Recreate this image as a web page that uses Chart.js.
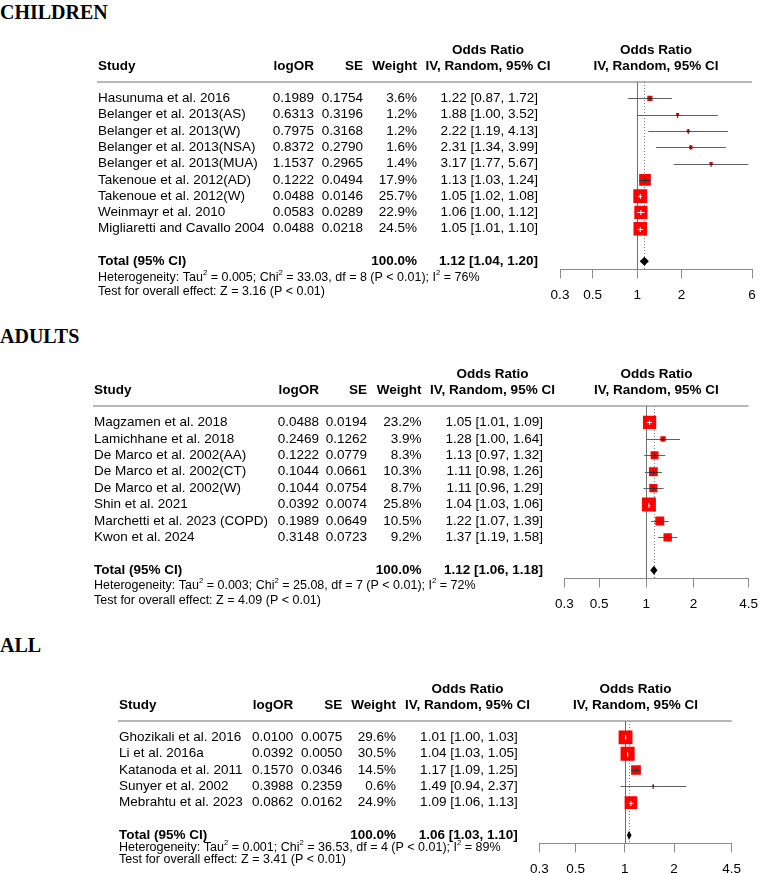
<!DOCTYPE html>
<html>
<head>
<meta charset="utf-8">
<script src="https://cdn.jsdelivr.net/npm/chart.js@4.4.1/dist/chart.umd.min.js"></script>
<style>
  html, body { margin: 0; padding: 0; background: #fff; overflow: hidden; }
  body { width: 767px; height: 873px; position: relative; }
  .title { position: absolute; left: 0; font: bold 20px "Liberation Serif", "Times New Roman", serif; line-height: 24px; color: #000; }
  .panel { position: absolute; left: 0; width: 767px; }
</style>
</head>
<body>
<div class="title" style="top:0px">CHILDREN</div>
<div class="panel" style="top:30px;height:280px"><canvas id="chartChildren"></canvas></div>
<div class="title" style="top:324px">ADULTS</div>
<div class="panel" style="top:353.5px;height:265px"><canvas id="chartAdults"></canvas></div>
<div class="title" style="top:633px">ALL</div>
<div class="panel" style="top:669px;height:215px"><canvas id="chartAll"></canvas></div>

<script>
/* ---------- data: children ---------- */
const childStudies = ['Hasunuma et al. 2016', 'Belanger et al. 2013(AS)', 'Belanger et al. 2013(W)',
  'Belanger et al. 2013(NSA)', 'Belanger et al. 2013(MUA)', 'Takenoue et al. 2012(AD)',
  'Takenoue et al. 2012(W)', 'Weinmayr et al. 2010', 'Migliaretti and Cavallo 2004'];
const childLogOR  = [0.1989, 0.6313, 0.7975, 0.8372, 1.1537, 0.1222, 0.0488, 0.0583, 0.0488];
const childSE     = [0.1754, 0.3196, 0.3168, 0.2790, 0.2965, 0.0494, 0.0146, 0.0289, 0.0218];
const childWeight = [3.6, 1.2, 1.2, 1.6, 1.4, 17.9, 25.7, 22.9, 24.5];
const childOR     = [1.22, 1.88, 2.22, 2.31, 3.17, 1.13, 1.05, 1.06, 1.05];
const childLo     = [0.87, 1.00, 1.19, 1.34, 1.77, 1.03, 1.02, 1.00, 1.01];
const childHi     = [1.72, 3.52, 4.13, 3.99, 5.67, 1.24, 1.08, 1.12, 1.10];
const childTotal  = [1.12, 1.04, 1.20];
const childHet    = { tau2: '0.005', chi2: '33.03', df: 8, i2: 76, z: '3.16' };
const childTicks  = [0.3, 0.5, 1, 2, 6];

/* ---------- data: adults ---------- */
const adultStudies = ['Magzamen et al. 2018', 'Lamichhane et al. 2018', 'De Marco et al. 2002(AA)',
  'De Marco et al. 2002(CT)', 'De Marco et al. 2002(W)', 'Shin et al. 2021',
  'Marchetti et al. 2023 (COPD)', 'Kwon et al. 2024'];
const adultLogOR  = [0.0488, 0.2469, 0.1222, 0.1044, 0.1044, 0.0392, 0.1989, 0.3148];
const adultSE     = [0.0194, 0.1262, 0.0779, 0.0661, 0.0754, 0.0074, 0.0649, 0.0723];
const adultWeight = [23.2, 3.9, 8.3, 10.3, 8.7, 25.8, 10.5, 9.2];
const adultOR     = [1.05, 1.28, 1.13, 1.11, 1.11, 1.04, 1.22, 1.37];
const adultLo     = [1.01, 1.00, 0.97, 0.98, 0.96, 1.03, 1.07, 1.19];
const adultHi     = [1.09, 1.64, 1.32, 1.26, 1.29, 1.06, 1.39, 1.58];
const adultTotal  = [1.12, 1.06, 1.18];
const adultHet    = { tau2: '0.003', chi2: '25.08', df: 7, i2: 72, z: '4.09' };
const adultTicks  = [0.3, 0.5, 1, 2, 4.5];

/* ---------- data: all ---------- */
const allStudies = ['Ghozikali et al. 2016', 'Li et al. 2016a', 'Katanoda et al. 2011',
  'Sunyer et al. 2002', 'Mebrahtu et al. 2023'];
const allLogOR  = [0.0100, 0.0392, 0.1570, 0.3988, 0.0862];
const allSE     = [0.0075, 0.0050, 0.0346, 0.2359, 0.0162];
const allWeight = [29.6, 30.5, 14.5, 0.6, 24.9];
const allOR     = [1.01, 1.04, 1.17, 1.49, 1.09];
const allLo     = [1.00, 1.03, 1.09, 0.94, 1.06];
const allHi     = [1.03, 1.05, 1.25, 2.37, 1.13];
const allTotal  = [1.06, 1.03, 1.10];
const allHet    = { tau2: '0.001', chi2: '36.53', df: 4, i2: 89, z: '3.41' };
const allTicks  = [0.3, 0.5, 1, 2, 4.5];

/* ---------- helpers ---------- */
const SANS = '"Liberation Sans", Arial, sans-serif';
function font(size, bold) { return `${bold ? 'bold ' : ''}${size}px ${SANS}`; }

// draws text where "^2" becomes a small superscript
function drawRich(ctx, str, x, y, size) {
  const parts = str.split('^');
  let cx = x;
  parts.forEach((p, i) => {
    if (i > 0) {
      ctx.font = font(size * 0.62, false);
      ctx.fillText(p[0], cx, y - size * 0.38);
      cx += ctx.measureText(p[0]).width;
      p = p.slice(1);
    }
    ctx.font = font(size, false);
    ctx.fillText(p, cx, y);
    cx += ctx.measureText(p).width;
  });
}

const forestPlugin = {
  id: 'forest',
  beforeDatasetsDraw(chart) {
    const c = chart.options.plugins.forest;
    const { ctx, chartArea: a, scales: { x, y } } = chart;
    ctx.save();
    // header rule
    ctx.strokeStyle = '#a0a0a0';
    ctx.lineWidth = 1.5;
    ctx.beginPath(); ctx.moveTo(c.lineL, a.top); ctx.lineTo(a.right, a.top); ctx.stroke();
    // line of no effect
    ctx.strokeStyle = '#707070';
    ctx.lineWidth = 1;
    const x1 = Math.round(x.getPixelForValue(1)) + 0.5;
    ctx.beginPath(); ctx.moveTo(x1, a.top); ctx.lineTo(x1, a.bottom); ctx.stroke();
    // pooled estimate, dotted
    const xp = Math.round(x.getPixelForValue(c.total[0])) + 0.5;
    ctx.strokeStyle = '#808080';
    ctx.setLineDash([1, 2]);
    ctx.beginPath(); ctx.moveTo(xp, a.top); ctx.lineTo(xp, a.bottom); ctx.stroke();
    ctx.setLineDash([]);
    // confidence intervals
    ctx.strokeStyle = '#606060';
    c.lo.forEach((lo, i) => {
      const yy = Math.round(y.getPixelForValue(i)) + 0.5;
      const xa = Math.max(x.getPixelForValue(lo), a.left);
      const xb = Math.min(x.getPixelForValue(c.hi[i]), a.right);
      ctx.beginPath(); ctx.moveTo(xa, yy); ctx.lineTo(xb, yy); ctx.stroke();
    });
    ctx.restore();
  },
  afterDatasetsDraw(chart) {
    const c = chart.options.plugins.forest;
    const { ctx, chartArea: a, scales: { x, y } } = chart;
    ctx.save();
    // CI part inside the squares
    c.or.forEach((v, i) => {
      const half = Math.sqrt(c.weight[i]) * c.k / 2;
      const xc = x.getPixelForValue(v);
      const yy = Math.round(y.getPixelForValue(i)) + 0.5;
      const xa = x.getPixelForValue(c.lo[i]);
      const xb = x.getPixelForValue(c.hi[i]);
      const inside = xa >= xc - half && xb <= xc + half;
      ctx.strokeStyle = inside ? '#ffffff' : '#303030';
      ctx.lineWidth = 1;
      ctx.beginPath();
      ctx.moveTo(Math.max(xa, xc - half), yy); ctx.lineTo(Math.min(xb, xc + half), yy);
      ctx.moveTo(xc, yy - 2.5); ctx.lineTo(xc, yy + 2.5);
      ctx.stroke();
    });
    // diamond
    const yt = y.getPixelForValue(c.studies.length + 1);
    ctx.fillStyle = '#000';
    ctx.beginPath();
    ctx.moveTo(x.getPixelForValue(c.total[1]), yt);
    ctx.lineTo(x.getPixelForValue(c.total[0]), yt - 4.5);
    ctx.lineTo(x.getPixelForValue(c.total[2]), yt);
    ctx.lineTo(x.getPixelForValue(c.total[0]), yt + 4.5);
    ctx.closePath(); ctx.fill();

    // table text
    ctx.fillStyle = '#000';
    ctx.textBaseline = 'middle';
    const fs = 13.5;
    const h1 = a.top - 32, h2 = a.top - 15.5;
    ctx.font = font(fs, true);
    ctx.textAlign = 'left';  ctx.fillText('Study', c.studyX, h2);
    ctx.textAlign = 'right'; ctx.fillText('logOR', c.logX, h2);
    ctx.fillText('SE', c.seX, h2);
    ctx.fillText('Weight', c.wX, h2);
    ctx.textAlign = 'center';
    ctx.fillText('Odds Ratio', c.orHdrX, h1);
    ctx.fillText('IV, Random, 95% CI', c.orHdrX, h2);
    const pc = (a.left + a.right) / 2;
    ctx.fillText('Odds Ratio', pc, h1);
    ctx.fillText('IV, Random, 95% CI', pc, h2);

    ctx.font = font(fs, false);
    c.studies.forEach((s, i) => {
      const yy = y.getPixelForValue(i);
      ctx.textAlign = 'left';  ctx.fillText(s, c.studyX, yy);
      ctx.textAlign = 'right';
      ctx.fillText(c.logOR[i].toFixed(4), c.logX, yy);
      ctx.fillText(c.se[i].toFixed(4), c.seX, yy);
      ctx.fillText(c.weight[i].toFixed(1) + '%', c.wX, yy);
      ctx.fillText(`${c.or[i].toFixed(2)} [${c.lo[i].toFixed(2)}, ${c.hi[i].toFixed(2)}]`, c.orX, yy);
    });

    ctx.font = font(fs, true);
    ctx.textAlign = 'left';  ctx.fillText('Total (95% CI)', c.studyX, yt);
    ctx.textAlign = 'right'; ctx.fillText('100.0%', c.wX, yt);
    const t = c.total;
    ctx.fillText(`${t[0].toFixed(2)} [${t[1].toFixed(2)}, ${t[2].toFixed(2)}]`, c.orX, yt);

    ctx.textAlign = 'left';
    const h = c.het;
    drawRich(ctx, `Heterogeneity: Tau^2 = ${h.tau2}; Chi^2 = ${h.chi2}, df = ${h.df} (P < 0.01); I^2 = ${h.i2}%`,
      c.studyX, yt + c.hetDy[0], 12.5);
    drawRich(ctx, `Test for overall effect: Z = ${h.z} (P < 0.01)`, c.studyX, yt + c.hetDy[1], 12.5);
    ctx.restore();
  }
};

function makeForest(id, d) {
  const n = d.studies.length;
  return new Chart(document.getElementById(id), {
    type: 'scatter',
    data: {
      datasets: [{
        data: d.or.map((v, i) => ({ x: v, y: i })),
        pointStyle: 'rect',
        pointRadius: d.weight.map(w => Math.sqrt(w) * d.k / Math.SQRT2),
        pointHoverRadius: d.weight.map(w => Math.sqrt(w) * d.k / Math.SQRT2),
        backgroundColor: '#ff0000',
        borderColor: '#ff2020',
        borderWidth: 0,
      }]
    },
    options: {
      responsive: true,
      maintainAspectRatio: false,
      animation: false,
      events: [],
      layout: { padding: { left: d.plotL, right: 767 - d.plotR, top: 52, bottom: 0 } },
      plugins: { legend: { display: false }, tooltip: { enabled: false }, forest: d },
      scales: {
        x: {
          type: 'logarithmic',
          min: d.ticks[0],
          max: d.ticks[d.ticks.length - 1],
          afterBuildTicks: s => { s.ticks = d.ticks.map(v => ({ value: v })); },
          afterFit: s => { s.height = 40.5; },
          ticks: {
            autoSkip: false, maxRotation: 0, padding: 9, color: '#000',
            font: { size: 13.5, family: SANS },
            callback: v => String(v),
          },
          grid: { drawOnChartArea: false, drawTicks: true, tickLength: 9, color: '#8c8c8c' },
          border: { display: true, color: '#8c8c8c', width: 1 },
        },
        y: { type: 'linear', reverse: true, min: -1, max: n + 1.5, display: false }
      }
    },
    plugins: [forestPlugin]
  });
}

makeForest('chartChildren', {
  studies: childStudies, logOR: childLogOR, se: childSE, weight: childWeight,
  or: childOR, lo: childLo, hi: childHi, total: childTotal, het: childHet, ticks: childTicks,
  k: 2.75, plotL: 560, plotR: 752, lineL: 97,
  studyX: 98, logX: 314, seX: 363, wX: 417, orX: 538, orHdrX: 488, hetDy: [16.5, 30.5],
});
makeForest('chartAdults', {
  studies: adultStudies, logOR: adultLogOR, se: adultSE, weight: adultWeight,
  or: adultOR, lo: adultLo, hi: adultHi, total: adultTotal, het: adultHet, ticks: adultTicks,
  k: 2.75, plotL: 564.3, plotR: 756.7, lineL: 93,
  studyX: 94, logX: 319, seX: 367, wX: 421.5, orX: 543, orHdrX: 492.5, hetDy: [15, 30],
});
makeForest('chartAll', {
  studies: allStudies, logOR: allLogOR, se: allSE, weight: allWeight,
  or: allOR, lo: allLo, hi: allHi, total: allTotal, het: allHet, ticks: allTicks,
  k: 2.55, plotL: 539.3, plotR: 731.7, lineL: 118,
  studyX: 119, logX: 293.3, seX: 342.3, wX: 396, orX: 517.7, orHdrX: 467.5, hetDy: [12.5, 24.5],
});
</script>
</body>
</html>
